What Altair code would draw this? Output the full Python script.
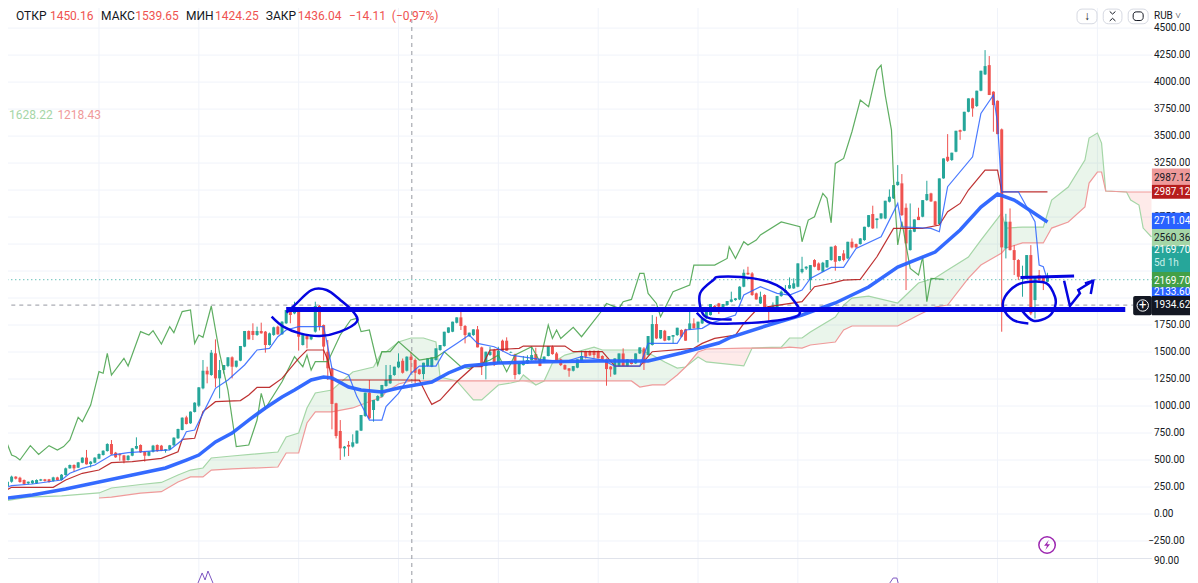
import altair as alt
import pandas as pd

# ---- candles: one bar per list position ----
opens_a = [250,259,299,346,336,315,284,284,284,309,
321,321,306,339,315,361,423,454,429,475,
522,463,475,512,546,583,648,568,555,543,
500,540,605,639,574,540,577,639,633,587,
599,636,701,778,895,840,945,1003,1164,1327,
1287,1488,1256,1333,1371,1451,1364,1420,1550,1695,
1695,1658,1695,1689,1565,1658,1735,1664,1766,1880,
1858,1905,1565,1648,1618,1689,1926,1750,1503,1349,
1025,769,608,640,624,654,772,907,1124,963,
1050,1087,1185,1210,1287,1358]
highs_a = [265,305,355,350,345,320,300,315,321,325,
325,325,345,345,370,430,458,460,482,525,
593,490,525,560,590,655,685,575,560,548,
545,612,710,645,580,580,640,645,640,600,
640,710,790,895,910,950,1035,1175,1426,1364,
1519,1617,1426,1380,1451,1460,1420,1556,1695,1700,
1766,1735,1772,1695,1680,1735,1745,1785,1889,1890,
1966,1915,1660,1655,1650,1966,1935,1755,1611,1355,
1030,870,630,676,738,772,917,1124,1241,1056,
1100,1195,1380,1380,1364,1488]
lows_a = [240,255,290,320,290,270,275,278,278,305,
300,290,300,310,310,355,420,392,425,470,
458,432,470,508,542,578,548,520,494,469,
495,535,600,565,485,535,570,575,582,568,
592,632,696,775,830,835,940,990,1155,1210,
1280,1173,1071,1300,1360,1256,1356,1415,1545,1617,
1611,1650,1670,1494,1560,1650,1660,1660,1760,1766,
1850,1513,1560,1534,1610,1680,1700,1420,1241,784,
700,500,531,537,615,650,768,900,880,855,
1045,1080,1180,1205,1280,1350]
closes_a = [260,299,346,327,296,278,299,309,315,321,
306,296,339,315,364,423,454,423,478,522,
460,485,522,556,586,648,552,525,543,494,
540,608,630,571,540,577,633,583,587,599,
636,707,787,892,833,948,1031,1173,1327,1293,
1494,1256,1333,1380,1451,1364,1420,1556,1695,1617,
1658,1695,1673,1565,1673,1729,1664,1781,1889,1843,
1920,1642,1658,1618,1648,1926,1735,1550,1349,1019,
722,608,624,624,664,772,917,1124,886,1056,
1093,1195,1241,1287,1364,1411]

opens_b = [1419,1327,1457,1426,1339,1296,1370,1364,1426,1518,
1555,1679,1688,1771,1821,1741,1648,1657,1710,1543,
1370,1472,1518,1395,1605,1605,1495,1478,1296,1379,
1395,1426,1481,1432,1410,1463,1549,1487,1432,1379,
1349,1327,1355,1418,1509,1509,1509,1509,1463,1432,
1365,1293,1370,1487,1370,1426,1395,1487,1533,1472,
1565,1759,1626,1697,1611,1642,1657,1704,1710,1710,
1765,1719,1765,1812,1842,1926,1950,1904,1935,1965,
1981,1987,2105,2234,2228,2043,1950,2028,1920,1900,
1913,2018,2049,2089,2089,2105]
highs_b = [1440,1460,1503,1440,1345,1401,1441,1450,1534,1565,
1688,1728,1781,1821,1873,1750,1680,1710,1741,1550,
1503,1549,1530,1549,1615,1636,1505,1485,1395,1463,
1470,1543,1540,1440,1460,1555,1560,1500,1440,1385,
1352,1370,1432,1512,1512,1515,1515,1515,1470,1440,
1370,1441,1487,1534,1432,1435,1487,1543,1545,1648,
1842,1827,1704,1705,1648,1657,1725,1710,1715,1873,
1812,1781,1812,1880,1944,1935,1955,1945,1972,2059,
2000,2110,2265,2290,2240,2050,2059,2035,1925,1960,
2020,2070,2120,2191,2182,2321]
lows_b = [1300,1320,1302,1210,1290,1247,1365,1360,1420,1512,
1550,1675,1684,1765,1704,1580,1640,1650,1543,1287,
1247,1465,1370,1390,1505,1510,1490,1247,1290,1375,
1390,1420,1420,1370,1405,1460,1475,1415,1370,1335,
1271,1320,1350,1412,1440,1462,1441,1440,1425,1188,
1271,1288,1365,1370,1365,1385,1390,1482,1334,1468,
1560,1620,1620,1600,1605,1580,1650,1635,1605,1705,
1719,1589,1760,1805,1838,1900,1852,1900,1930,1960,
1975,1981,2100,2215,2020,1985,1945,1900,1787,1895,
1908,2012,2045,2085,2085,2100]
closes_b = [1308,1457,1426,1308,1296,1401,1441,1450,1534,1565,
1688,1728,1781,1821,1741,1657,1679,1710,1543,1364,
1503,1503,1395,1512,1512,1512,1500,1287,1395,1410,
1426,1472,1426,1370,1457,1555,1481,1418,1379,1339,
1327,1370,1432,1463,1457,1469,1472,1441,1432,1342,
1339,1441,1487,1370,1432,1389,1487,1543,1395,1648,
1759,1626,1704,1605,1648,1657,1725,1642,1605,1765,
1719,1781,1812,1873,1944,1904,1920,1944,1972,1987,
1997,2105,2234,2219,2028,1987,2012,1904,1905,1925,
2018,2059,2074,2120,2136,2321]

opens_c = [2240,2274,2166,2352,2320,2244,2284,2352,2481,2345,
2413,2367,2521,2500,2500,2537,2660,2778,2722,2737,
2737,2892,2923,3046,3062,2836,2444,2614,2753,2753,
2907,2969,2895,2685,3108,3308,3278,3355,3555,3549,
3725,3849,3778,3920,4071,4157,3911,3827,3562,2460,
2707,2444,2352,2190,2182,2398,1981,2213,2197,2151]
highs_c = [2382,2295,2305,2360,2330,2335,2352,2475,2490,2389,
2444,2521,2552,2505,2555,2660,2768,2855,2737,2784,
2901,3006,3046,3231,3148,2876,2876,2728,2836,2907,
3086,2975,2900,3108,3293,3518,3346,3549,3560,3725,
3849,3855,3920,4105,4296,4241,3915,3830,3570,2780,
2830,2491,2360,2300,2398,2490,2197,2260,2205,2234]
lows_c = [2228,2260,2074,2285,2255,2240,2280,2345,2253,2340,
2340,2360,2460,2465,2495,2530,2655,2640,2645,2730,
2730,2885,2918,3040,2760,2074,2440,2610,2722,2748,
2900,2890,2675,2680,3105,3260,3270,3350,3465,3545,
3720,3679,3770,3915,4065,3880,3540,3518,1688,2367,
2440,2213,2166,2012,2175,1842,1811,2160,2074,2150]
closes_c = [2270,2290,2305,2290,2259,2327,2352,2475,2336,2389,
2352,2521,2469,2469,2552,2660,2768,2645,2737,2784,
2901,2938,3046,3077,2768,2506,2629,2728,2722,2907,
2963,2895,2676,3108,3293,3271,3346,3549,3540,3725,
3849,3756,3920,4105,4148,3880,3787,3518,2469,2707,
2444,2352,2197,2198,2398,1858,2197,2166,2151,2191]

# ---- indicator lines: bar number and price ----
ema_bars = [1,7,15,23,31,39,44,47,51,55,59,63,67,70,74,77,79,83,86,91,95,103,107,111,119,127,143,155,163,172,175,184,192,200,208,215,224,230,235,239,243,251]
ema_vals = [148,176,232,296,361,426,500,546,667,750,870,982,1083,1148,1241,1269,1259,1176,1148,1130,1167,1222,1306,1370,1398,1408,1417,1417,1491,1583,1639,1750,1843,1954,2102,2287,2426,2630,2843,2963,2908,2704]

tenkan_bars = [0,2,7,14,16,19,22,26,30,40,43,44,46,48,51,54,58,61,64,66,68,71,77,78,79,83,85,88,91,92,95,
98,100,104,106,109,112,114,118,122,129,135,139,144,147,153,155,162,164,168,170,176,178,182,186,189,192,
194,199,202,205,211,215,216,223,225,227,233,235,238,239,240,244,248,249,250,251]
tenkan_vals = [238,262,278,315,377,423,454,546,568,593,685,762,778,932,1164,1241,1380,1519,1534,1642,1704,1735,1735,1550,1349,1287,1087,870,870,994,1117,
1302,1370,1370,1503,1580,1657,1580,1549,1472,1432,1410,1457,1426,1370,1370,1580,1580,1704,1719,1765,1842,2028,2105,2043,2028,2074,
2182,2284,2284,2460,2568,2876,2660,2645,2614,3031,3308,3710,3880,3617,2984,2984,2707,2305,2290,2166]

kijun_bars = [0,2,12,15,19,23,26,31,38,42,43,46,48,51,57,59,61,64,67,71,73,77,78,79,95,
100,102,103,105,109,113,115,117,124,125,135,137,144,147,153,156,166,168,171,176,178,181,184,192,
195,199,202,206,210,214,221,225,227,230,232,236,239,240,251]
kijun_vals = [207,247,247,315,377,407,475,485,515,577,691,701,948,1040,1050,1102,1173,1173,1256,1442,1519,1519,1426,1241,1241,
1240,1086,1015,1055,1225,1364,1364,1518,1534,1555,1555,1503,1503,1370,1370,1503,1534,1580,1626,1657,1765,1889,1920,1966,
2105,2136,2166,2172,2382,2645,2645,2676,2799,2876,3000,3185,3185,2984,2984]

chikou_bars = [0,1,2,3,4,6.5,8.5,11,13,14.5,16,18,19,21,23,24,25,26,29,30,33,35,36,38,40,41,43,45,46,47,48,50,52,54,56,59,61,62,63,67,70,72,73,74,75,78,81,83.5,85,86,88,90,91,93,95,
100,104,106,110,112,117,119,121,123,127,129,131,132,133,134,137,139,144,145,148,149,151,153,154,155,157,158,161,165,166,171,174,174.5,176,178,179,181,182,187,191.5,
192,193.5,195,197,198,199,200,202,204,206,208,210,211,212,213.5,214,215,216,218,220,221,222,223,226]
chikou_vals = [608,645,546,531,500,633,552,633,593,624,685,895,855,1009,1318,1303,1488,1287,1442,1371,1689,1658,1698,1574,1735,1679,1874,1889,1580,1658,1636,1926,1488,1148,624,639,870,1117,978,1225,1457,1364,1472,1333,1411,1411,1658,1797,1812,1689,1704,1380,1503,1503,1596,
1426,1450,1503,1364,1349,1426,1472,1318,1472,1549,1410,1750,1626,1704,1626,1728,1642,1889,1950,1904,1966,1987,2228,2228,2043,1950,1827,2059,2120,2305,2305,2367,2475,2367,2522,2491,2537,2584,2704,2660,
2521,2722,2753,2969,2923,2697,3247,3293,3540,3833,3772,4111,4157,3880,3555,3092,2491,2707,2274,2213,2382,1966,2182,2172]

# ---- Ichimoku cloud: shared bars, span A, span B ----
cloud_bars = [0,6,14,23,26,33,38,42,45,48,50,55,66,68,71,73,75,79,84,89,91,92,95,98,101,104,105,109,113,115,119,122,124,125,128,130,132,135,142,144,151,153,156,159,162,164,167,169,178,180,187,189,192,194,200,202,204,208,215,220,224,227,232,235,240,241,245,250,252,256,260,261,263,264,265,270,271,273,274,276]
span_a = [120,157,167,195,241,273,292,361,407,426,519,537,574,713,750,982,1121,1148,1315,1361,1500,1500,1593,1630,1630,1593,1269,1232,1056,1056,1195,1213,1232,1288,1195,1232,1399,1472,1546,1519,1519,1519,1472,1408,1352,1361,1454,1408,1371,1537,1546,1630,1630,1685,1824,1935,2000,2018,1954,2139,2185,2260,2380,2537,2787,2648,2657,2657,2908,3028,3278,3482,3528,3435,2991,2982,2908,2861,2648,2565]
span_b = [None,None,None,148,157,194,207,296,343,343,407,417,435,565,565,843,945,945,982,1056,1083,1130,1204,1232,1232,1232,1232,1232,1232,1232,1232,1232,1232,1232,1232,1232,1232,1232,1232,1232,1232,1176,1195,1195,1287,1361,1500,1528,1537,1537,1537,1546,1537,1565,1593,1704,1741,1741,1741,1843,1917,1935,2185,2306,2417,2463,2510,2510,2648,2704,2843,3065,3167,3167,2991,2982,2982,2982,2982,2982]

# ---- hand-drawn annotations ----
ring_1_bars = [64.5,67.3,71.3,76.1,81,85,84.1,81,77.7,74.1,70.5,68.1]
ring_1_vals = [1827,1735,1673,1648,1689,1781,1874,1982,2074,2074,1951,1864]
ring_2_bars = [175.1,169.9,167.9,167.5,170.7,172.3,180.3,185.9,189.6,191.2,183.5,175.5,169.9,166.7]
ring_2_vals = [1802,1812,1873,2043,2167,2197,2182,2120,1997,1842,1781,1765,1771,1864]
ring_3_bars = [246.4,242.8,240.4,240.8,243.6,246.8,250.8,252.8,252.8,251.2,247.6,244.8]
ring_3_vals = [1765,1796,1904,2012,2120,2151,2136,2012,1919,1827,1790,1888]
arrow_bars = [255,256.4,258.8,258.4,262,260,262,261.4]
arrow_vals = [2160,1926,2043,2074,2160,2135,2160,2037]
support_bars = [68,269.7]
support_vals = [1895,1895]
short_bars = [244.5,257.4]
short_vals = [2191,2203]

# ---- axis and header text ----
tick_prices = [0,250,500,750,1000,1250,1500,1750,2000,2250,2500,2750,3000,3250,3500,3750,4000,4250,4500]
grid_prices = [-250] + tick_prices
grid_bars = [23,47,71,95,119,143,167,191,215,239,263]
header_texts = ["ОТКР","1450.16","МАКС","1539.65","МИН","1424.25","ЗАКР","1436.04","−14.11","(−0,97%)"]
header_bars = [3.05,11.2,23.5,31.7,43.9,50.9,63.1,70.8,83.1,93.4]
header_cols = ["#131722","#ef5350","#131722","#ef5350","#131722","#ef5350","#131722","#ef5350","#ef5350","#ef5350"]

# right-hand price tags
tag_text = ["2987.12","2987.12","2711.04","2560.36","2169.70","2133.60","2169.70","1934.62"]
tag_mid = [3116,2982,2709,2560,2445,2056,2162,1931]
tag_top = [3200,3050,2790,2640,2480,2130,2240,2020]
tag_bot = [3050,2920,2640,2480,2240,1950,2100,1840]
tag_fill = ["#ef9a9a","#b71c1c","#2962ff","#a5d6a7","#26a69a","#2962ff","#43a047","#131722"]
tag_ink = ["#131722","#ffffff","#ffffff","#131722","#ffffff","#ffffff","#ffffff","#ffffff"]

GREEN, RED, BLUE = "#26a69a", "#ef5350", "#2962ff"
INK = "#0505e0"
FONT = "Roboto"
LABEL_BAR = 276.6
RIGHT_BAR = 285.26
TOP_ROW = 4610

xs = alt.Scale(domain=[1.13, RIGHT_BAR], nice=False, zero=False)
ys = alt.Scale(domain=[-639, 4686], nice=False, zero=False)
def X(f): return alt.X(f, scale=xs, axis=None)
def Y(f): return alt.Y(f, scale=ys, axis=None)

opens = opens_a + opens_b + opens_c
highs = highs_a + highs_b + highs_c
lows = lows_a + lows_b + lows_c
closes = closes_a + closes_b + closes_c
candles = pd.DataFrame({"bar": range(len(opens)), "o": opens, "h": highs, "l": lows, "c": closes})
candles["dir"] = ["up" if c >= o else "down" for o, c in zip(opens, closes)]
cdir = alt.Color("dir:N", scale=alt.Scale(domain=["up", "down"], range=[GREEN, RED]), legend=None)

cloud = pd.DataFrame({"bar": cloud_bars, "a": span_a, "b": span_b})
band = cloud.dropna().copy()
band["low"] = band[["a", "b"]].min(axis=1)

def line(bars, vals, color, width, opacity=1.0, interp="linear"):
    d = pd.DataFrame({"bar": bars, "v": vals, "n": range(len(bars))})
    return alt.Chart(d).mark_line(color=color, strokeWidth=width, opacity=opacity, interpolate=interp).encode(
        x=X("bar:Q"), y=Y("v:Q"), order="n:Q")

def words(df, size=10, align="left", weight="normal"):
    return alt.Chart(df).mark_text(align=align, baseline="middle", fontSize=size, font=FONT, fontWeight=weight).encode(
        x=X("bar:Q"), y=Y("v:Q"), text="t:N", color=alt.Color("c:N", scale=None))

layers = []
# grid
hgrid = pd.DataFrame({"v": grid_prices, "x0": 0, "x1": 276.1})
layers.append(alt.Chart(hgrid).mark_rule(color="#f0f3fa", strokeWidth=1).encode(x=X("x0:Q"), x2="x1:Q", y=Y("v:Q")))
vgrid = pd.DataFrame({"bar": grid_bars, "y0": -639, "y1": 4686})
layers.append(alt.Chart(vgrid).mark_rule(color="#f0f3fa", strokeWidth=1).encode(x=X("bar:Q"), y=Y("y0:Q"), y2="y1:Q"))
# pane separator
sep = pd.DataFrame({"x0": [0], "x1": [276.1], "v": [-412]})
layers.append(alt.Chart(sep).mark_rule(color="#e0e3eb", strokeWidth=1).encode(x=X("x0:Q"), x2="x1:Q", y=Y("v:Q")))
layers.append(line([46.8,47.8,48.5,49.2,50.4], [-639,-546,-611,-528,-639], "#7e57c2", 1))
layers.append(line([213.1,213.9,214.8,215.1], [-639,-593,-593,-639], "#7e57c2", 1))
# cloud
layers.append(alt.Chart(band).mark_area(color="#43a047", opacity=0.11).encode(x=X("bar:Q"), y=Y("a:Q"), y2="low:Q"))
layers.append(alt.Chart(band).mark_area(color="#f44336", opacity=0.11).encode(x=X("bar:Q"), y=Y("b:Q"), y2="low:Q"))
layers.append(line(cloud_bars, span_a, "#a5d6a7", 1.2))
layers.append(line(band["bar"].tolist(), band["b"].tolist(), "#ef9a9a", 1.2))
# price / crosshair lines
dotted = pd.DataFrame({"x0": [0], "x1": [276.1], "v": [2169.7]})
layers.append(alt.Chart(dotted).mark_rule(color=GREEN, strokeWidth=1, strokeDash=[1, 3]).encode(x=X("x0:Q"), x2="x1:Q", y=Y("v:Q")))
crossh = pd.DataFrame({"x0": [0], "x1": [271.6], "v": [1934.62]})
layers.append(alt.Chart(crossh).mark_rule(color="#9598a1", strokeWidth=1, strokeDash=[4, 4]).encode(x=X("x0:Q"), x2="x1:Q", y=Y("v:Q")))
crossv = pd.DataFrame({"bar": [98.2], "y0": [-639], "y1": [4686]})
layers.append(alt.Chart(crossv).mark_rule(color="#9598a1", strokeWidth=1, strokeDash=[4, 4]).encode(x=X("bar:Q"), y=Y("y0:Q"), y2="y1:Q"))
# candles
layers.append(alt.Chart(candles).mark_rule(strokeWidth=1).encode(x=X("bar:Q"), y=Y("l:Q"), y2="h:Q", color=cdir))
layers.append(alt.Chart(candles).mark_rule(strokeWidth=3).encode(x=X("bar:Q"), y=Y("o:Q"), y2="c:Q", color=cdir))
# indicators
layers.append(line(chikou_bars, chikou_vals, "#43a047", 1.2, 0.85))
layers.append(line(kijun_bars, kijun_vals, "#b71c1c", 1.2, 0.9))
layers.append(line(tenkan_bars, tenkan_vals, BLUE, 1.2, 0.85))
layers.append(line(ema_bars, ema_vals, BLUE, 3.5, 0.95))
# annotations
layers.append(line(support_bars, support_vals, INK, 5))
layers.append(line(short_bars, short_vals, INK, 3))
layers.append(line(ring_1_bars, ring_1_vals, INK, 2.5, 1, "cardinal"))
layers.append(line(ring_2_bars, ring_2_vals, INK, 2.5, 1, "cardinal"))
layers.append(line(ring_3_bars, ring_3_vals, INK, 2.5, 1, "cardinal"))
layers.append(line(arrow_bars, arrow_vals, INK, 2.5))
# header
layers.append(words(pd.DataFrame({"bar": header_bars, "v": TOP_ROW, "t": header_texts, "c": header_cols}), size=12))
layers.append(words(pd.DataFrame({"bar": [1.4, 13], "v": [3695, 3695], "t": ["1628.22", "1218.43"], "c": ["#a5d6a7", "#ef9a9a"]}), size=12))
# axis text
axis_df = pd.DataFrame({"bar": LABEL_BAR, "v": tick_prices + [-435],
                        "t": [f"{p}.00" for p in tick_prices] + ["90.00"], "c": "#131722"})
layers.append(words(axis_df, size=10))
layers.append(words(pd.DataFrame({"bar": [275.2], "v": [-250], "t": ["−250.00"], "c": ["#131722"]}), size=10))
layers.append(words(pd.DataFrame({"bar": [LABEL_BAR], "v": [TOP_ROW], "t": ["RUB ˅"], "c": ["#131722"]}), size=10))
# buttons
btn = pd.DataFrame({"x0": [258.1, 264.4, 270.4], "x1": [262.9, 268.9, 275.2], "y0": [4676]*3, "y1": [4540]*3})
layers.append(alt.Chart(btn).mark_rect(fill="#ffffff", stroke="#d6d9e2", strokeWidth=1, cornerRadius=5).encode(x=X("x0:Q"), x2="x1:Q", y=Y("y0:Q"), y2="y1:Q"))
layers.append(words(pd.DataFrame({"bar": [260.5], "v": [TOP_ROW], "t": ["↓"], "c": ["#131722"]}), size=12, align="center"))
icon = pd.DataFrame({"bar": [266.65], "v": [TOP_ROW]})
layers.append(alt.Chart(icon).mark_point(shape="M-0.6,-1 L0,-0.45 L0.6,-1 M-0.6,1 L0,0.45 L0.6,1", size=90, stroke="#131722", strokeWidth=1, filled=False, opacity=1).encode(x=X("bar:Q"), y=Y("v:Q")))
frame = pd.DataFrame({"x0": [271.6], "x1": [274.0], "y0": [4650], "y1": [4570]})
layers.append(alt.Chart(frame).mark_rect(fill="#ffffff", stroke="#131722", strokeWidth=1, cornerRadius=3).encode(x=X("x0:Q"), x2="x1:Q", y=Y("y0:Q"), y2="y1:Q"))
# lightning badge
badge = pd.DataFrame({"bar": [250.9], "v": [-287]})
layers.append(alt.Chart(badge).mark_point(shape="circle", size=270, stroke="#9c27b0", strokeWidth=1.5, filled=False, opacity=1).encode(x=X("bar:Q"), y=Y("v:Q")))
layers.append(alt.Chart(badge).mark_point(shape="M0.35,-1 L-0.6,0.15 L0,0.15 L-0.35,1 L0.6,-0.15 L0,-0.15 Z", size=100, fill="#9c27b0", filled=True, opacity=1, strokeWidth=0).encode(x=X("bar:Q"), y=Y("v:Q")))
# right-hand tags
tags = pd.DataFrame({"x0": 276.1, "x1": RIGHT_BAR, "bar": LABEL_BAR, "v": tag_mid, "t": tag_text, "top": tag_top, "bot": tag_bot, "f": tag_fill, "c": tag_ink})
layers.append(alt.Chart(tags).mark_rect().encode(x=X("x0:Q"), x2="x1:Q", y=Y("top:Q"), y2="bot:Q", fill=alt.Fill("f:N", scale=None)))
layers.append(words(tags, size=10))
layers.append(words(pd.DataFrame({"bar": [LABEL_BAR], "v": [2320], "t": ["5d 1h"], "c": ["#c8efe9"]}), size=10))
# crosshair plus button
plusbox = pd.DataFrame({"x0": [271.6], "x1": [276.1], "top": [2020], "bot": [1840]})
layers.append(alt.Chart(plusbox).mark_rect(fill="#131722", cornerRadius=2).encode(x=X("x0:Q"), x2="x1:Q", y=Y("top:Q"), y2="bot:Q"))
plus = pd.DataFrame({"bar": [273.9], "v": [1931], "t": ["+"]})
layers.append(alt.Chart(plus).mark_point(shape="circle", size=130, stroke="#ffffff", strokeWidth=1, filled=False, opacity=1).encode(x=X("bar:Q"), y=Y("v:Q")))
layers.append(alt.Chart(plus).mark_text(color="#ffffff", fontSize=13, font=FONT, align="center", baseline="middle").encode(x=X("bar:Q"), y=Y("v:Q"), text="t:N"))

chart = alt.layer(*layers).properties(width=1182, height=575, padding=0, autosize="none", background="#ffffff").configure_view(stroke=None)
chart.save("out.html", embed_options={"renderer": "svg", "actions": False})
